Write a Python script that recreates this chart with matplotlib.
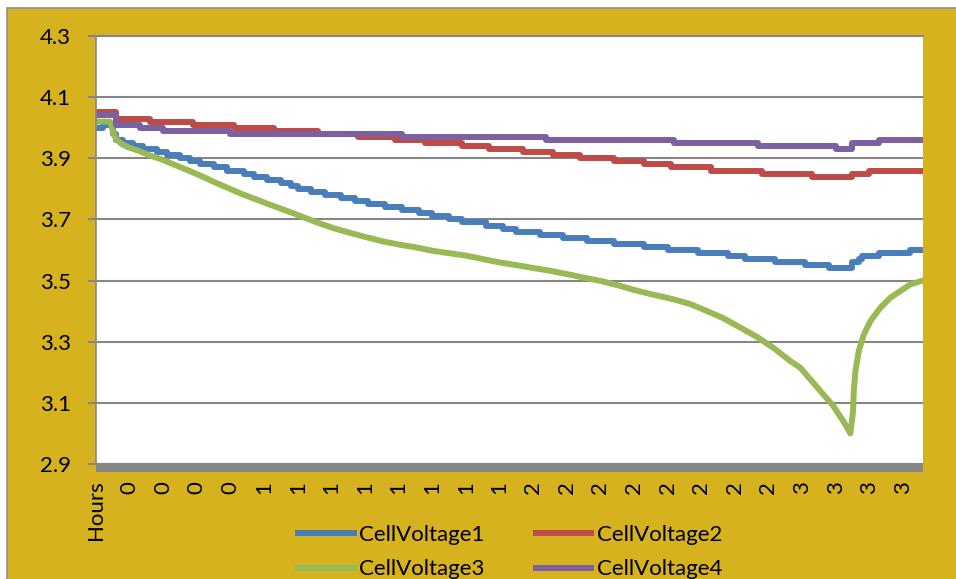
import matplotlib
matplotlib.use("Agg")
import numpy as np
import matplotlib.pyplot as plt
from matplotlib.patches import Rectangle

# =====================================================
# DATA (sample index, 10 samples per category label)
# =====================================================

cv1_x = [0, 2, 5, 6, 8, 11, 14, 18, 21, 25, 28, 31, 35, 39, 44, 47, 51, 55, 58, 60,
         64, 68, 73, 77, 81, 86, 91, 96, 100, 105, 109, 116, 121, 125, 132, 139, 146,
         154, 163, 170, 179, 188, 193, 202, 211, 218, 225, 227, 228, 233, 242, 246]
cv1_v = [4.00, 4.01, 3.98, 3.96, 3.95, 3.94, 3.93, 3.92, 3.91, 3.90, 3.89, 3.88, 3.87,
         3.86, 3.85, 3.84, 3.83, 3.82, 3.81, 3.80, 3.79, 3.78, 3.77, 3.76, 3.75, 3.74,
         3.73, 3.72, 3.71, 3.70, 3.69, 3.68, 3.67, 3.66, 3.65, 3.64, 3.63, 3.62, 3.61,
         3.60, 3.59, 3.58, 3.57, 3.56, 3.55, 3.54, 3.56, 3.57, 3.58, 3.59, 3.60, 3.60]

cv2_x = [0, 6, 16, 29, 41, 53, 66, 78, 89, 98, 109, 117, 127, 136, 144, 154, 163, 171,
         183, 198, 213, 225, 230, 246]
cv2_v = [4.05, 4.03, 4.02, 4.01, 4.00, 3.99, 3.98, 3.97, 3.96, 3.95, 3.94, 3.93, 3.92,
         3.91, 3.90, 3.89, 3.88, 3.87, 3.86, 3.85, 3.84, 3.85, 3.86, 3.86]

cv3_x = [0, 4.2, 5.1, 5.9, 7.6, 9.6, 12.6, 15.6, 19.6, 23.5, 27.5, 31.5, 35.4, 39.4,
         43.4, 47.3, 51.3, 55.3, 59.2, 63.2, 65.8, 70.5, 75.6, 80.7, 85.4, 90.5, 95.5,
         100.3, 105.4, 110.4, 115.2, 120.2, 125.3, 130.1, 135.1, 140.2, 144.9, 150.0,
         155.1, 159.8, 164.9, 171.7, 176.8, 181.8, 186.6, 191.7, 196.7, 201.5, 206.5,
         209.5, 214.6, 219.3, 222.3, 224.4, 225.2, 225.4, 225.9, 226.9, 228.4, 230.4,
         233.3, 236.3, 239.3, 242.3, 246.0]
cv3_v = [4.02, 4.02, 3.985, 3.964, 3.947, 3.936, 3.925, 3.911, 3.896, 3.878, 3.86,
         3.841, 3.821, 3.802, 3.783, 3.767, 3.75, 3.734, 3.718, 3.701, 3.69, 3.672,
         3.656, 3.641, 3.628, 3.617, 3.608, 3.597, 3.589, 3.581, 3.570, 3.559, 3.550,
         3.541, 3.532, 3.521, 3.510, 3.499, 3.485, 3.470, 3.456, 3.439, 3.423, 3.40,
         3.377, 3.346, 3.315, 3.28, 3.237, 3.215, 3.15, 3.09, 3.04, 3.00, 3.073, 3.138,
         3.204, 3.27, 3.324, 3.368, 3.411, 3.444, 3.466, 3.488, 3.50]

cv4_x = [0, 6, 13, 20, 40, 91, 134, 172, 197, 220, 225, 233, 246]
cv4_v = [4.04, 4.01, 4.00, 3.99, 3.98, 3.97, 3.96, 3.95, 3.94, 3.93, 3.95, 3.96, 3.96]

x_labels = ["Hours"] + ["0"] * 4 + ["1"] * 8 + ["2"] * 8 + ["3"] * 4
y_ticks = [2.9, 3.1, 3.3, 3.5, 3.7, 3.9, 4.1, 4.3]

# =====================================================
# STYLE
# =====================================================

W, H = 956, 579
GOLD = "#D5B21E"
GRAY = "#868686"
FONT = "Lato"
FS = 16
LW = 4.3

plt.rcParams["font.family"] = [FONT, "DejaVu Sans"]

fig = plt.figure(figsize=(W / 100, H / 100), dpi=100, facecolor="white")

# gold chart area with thin gray border (left / top)
fig.patches.append(Rectangle((7 / W, -0.1), 1.2, 1.1 - 7.5 / H,
                             transform=fig.transFigure, facecolor=GOLD,
                             edgecolor="#8f8f8f", lw=1.2, zorder=-5))

left, right, top, bottom = 96, 923, 36, 464
ax = fig.add_axes([left / W, 1 - bottom / H, (right - left) / W, (bottom - top) / H])
ax.set_facecolor("white")

ax.plot(cv1_x, cv1_v, drawstyle="steps-post", color="#4A7EBB", lw=LW, label="CellVoltage1")
ax.plot(cv2_x, cv2_v, drawstyle="steps-post", color="#BE4B48", lw=LW, label="CellVoltage2")
ax.plot(cv3_x, cv3_v, color="#98B954", lw=LW, label="CellVoltage3",
        solid_joinstyle="round")
ax.plot(cv4_x, cv4_v, drawstyle="steps-post", color="#7D60A0", lw=LW, label="CellVoltage4")

ax.set_xlim(0, 246)
ax.set_ylim(2.9, 4.3)
ax.set_yticks(y_ticks)
ax.set_yticklabels([f"{t:.1f}" for t in y_ticks], fontsize=FS)
ax.set_xticks(np.arange(len(x_labels)) * 10)
ax.set_xticklabels(x_labels, rotation=90, fontsize=FS)

ax.yaxis.grid(True, color=GRAY, lw=1.5)
ax.set_axisbelow(True)
ax.tick_params(axis="y", length=6, width=1.5, color=GRAY, pad=12)
ax.tick_params(axis="x", length=0, pad=12)

for s in ["right", "bottom"]:
    ax.spines[s].set_visible(False)
ax.spines["top"].set_color(GRAY)
ax.spines["top"].set_linewidth(1.5)
ax.spines["left"].set_color(GRAY)
ax.spines["left"].set_linewidth(1.2)

# thick gray category axis band
fig.patches.append(Rectangle((left / W, 1 - 472 / H), (right - left) / W, 9 / H,
                             transform=fig.transFigure, facecolor=GRAY,
                             edgecolor="none", zorder=3))

handles, labels = ax.get_legend_handles_labels()
order = [0, 2, 1, 3]
fig.legend([handles[i] for i in order], [labels[i] for i in order],
           loc="upper left", bbox_to_anchor=(298 / W, 1 - 525 / H), ncol=2,
           frameon=False, fontsize=FS, handlelength=2.5, handletextpad=0.25,
           columnspacing=2.3, labelspacing=0.65, borderpad=0, borderaxespad=0)

fig.savefig("out.png", dpi=100, facecolor="white")
